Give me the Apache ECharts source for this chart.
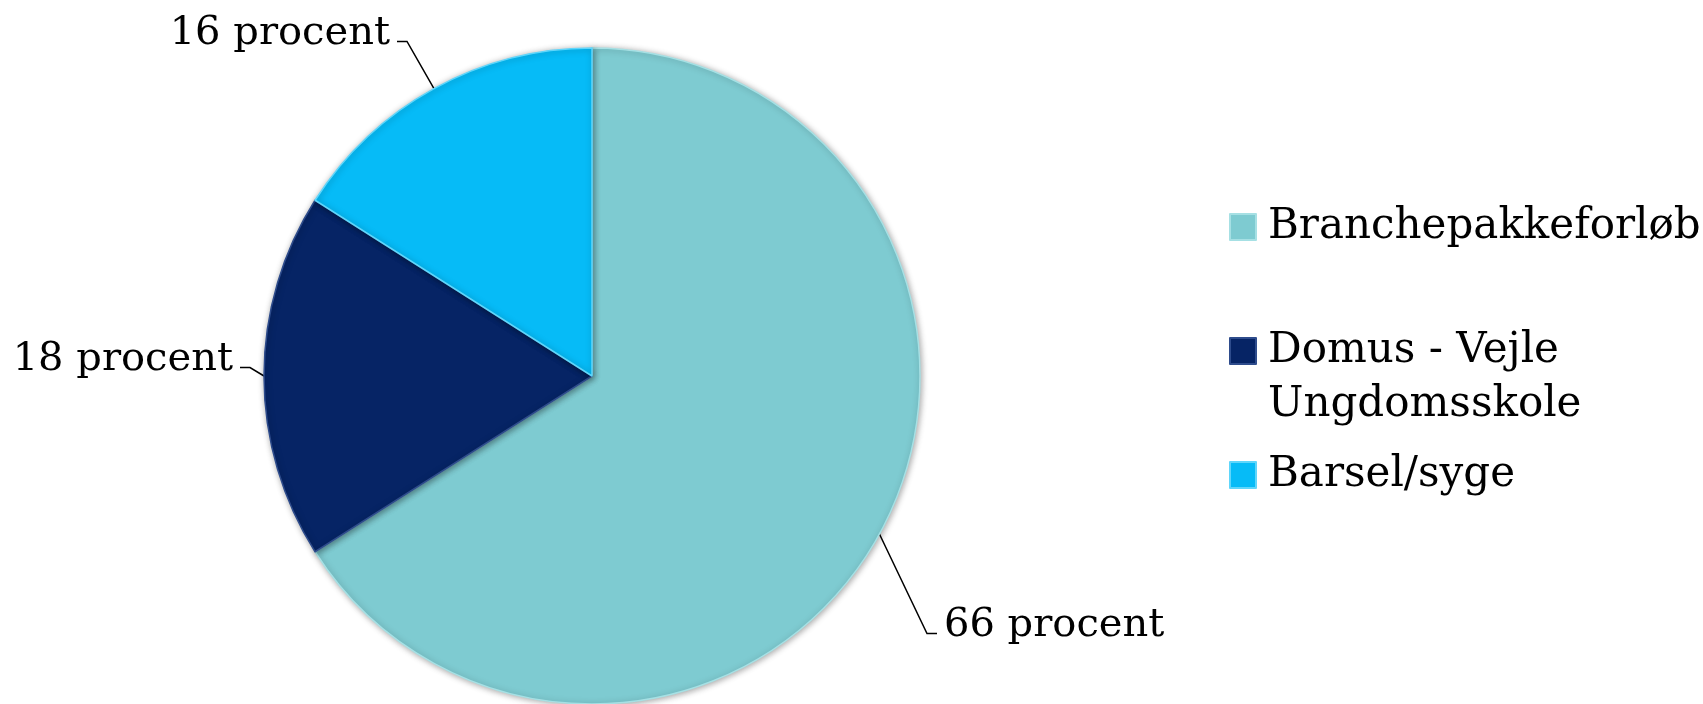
<!DOCTYPE html>
<html><head><meta charset="utf-8">
<script src="https://cdn.jsdelivr.net/npm/echarts@6/dist/echarts.min.js"></script>
<style>html,body{margin:0;padding:0;background:#fff}#c{width:1703px;height:704px}</style>
</head><body><div id="c"></div>
<script>
const categories = ['Branchepakkeforløb', 'Domus - Vejle\nUngdomsskole', 'Barsel/syge'];
const values = [66, 18, 16];
const colors = ['#7ECBD1', '#062465', '#06BBF7'];
const rimColors = ['#A6E0E4', '#2E4C8C', '#5FD6FB'];
const labelSuffix = ' procent';

// label placement (layout only)
const labelSpots = [
  { x: 937, y: 637, align: 'left' },
  { x: 240, y: 371, align: 'right' },
  { x: 397, y: 45,  align: 'right' }
];

const chart = echarts.init(document.getElementById('c'), null, { renderer: 'canvas' });

const pieData = categories.map((name, i) => ({
  name: name,
  value: values[i],
  itemStyle: { color: colors[i], borderColor: rimColors[i] }
}));

chart.setOption({
  animation: false,
  backgroundColor: '#ffffff',
  legend: {
    orient: 'vertical',
    left: 1229,
    top: 200,
    padding: 0,
    itemWidth: 26,
    itemHeight: 26,
    itemGap: 16,
    icon: 'rect',
    selectedMode: false,
    // multi-line names: blank leading line keeps marker beside the first line
    formatter: (name) => (name.indexOf('\n') >= 0 ? '\n' + name : name),
    textStyle: {
      fontFamily: 'DejaVu Serif',
      fontSize: 42,
      lineHeight: 54,
      color: '#000',
      padding: [0, 0, 0, 7]
    },
    data: categories
  },
  series: [{
    type: 'pie',
    center: [592, 376],
    radius: 328,
    startAngle: 90,
    clockwise: true,
    avoidLabelOverlap: false,
    itemStyle: {
      borderWidth: 1.5,
      shadowBlur: 6,
      shadowColor: 'rgba(0,0,0,0.35)',
      shadowOffsetX: 1,
      shadowOffsetY: 1
    },
    label: {
      show: true,
      position: 'outside',
      // a thin spacer line under the text puts the leader at the text baseline
      formatter: (p) => '{t|' + p.value + labelSuffix + '}\n{s| }',
      color: '#000',
      rich: {
        t: { fontFamily: 'DejaVu Serif', fontSize: 40, lineHeight: 40, color: '#000', padding: [0, 7, 0, 7] },
        s: { fontSize: 8, lineHeight: 22 }
      }
    },
    labelLine: {
      show: true,
      length: 20,
      length2: 10,
      smooth: false,
      lineStyle: { color: '#000', width: 1.5 }
    },
    labelLayout: function (p) {
      const s = labelSpots[p.dataIndex];
      return { x: s.x, y: s.y, align: s.align, verticalAlign: 'middle' };
    },
    data: pieData
  }]
});
</script>
</body></html>
